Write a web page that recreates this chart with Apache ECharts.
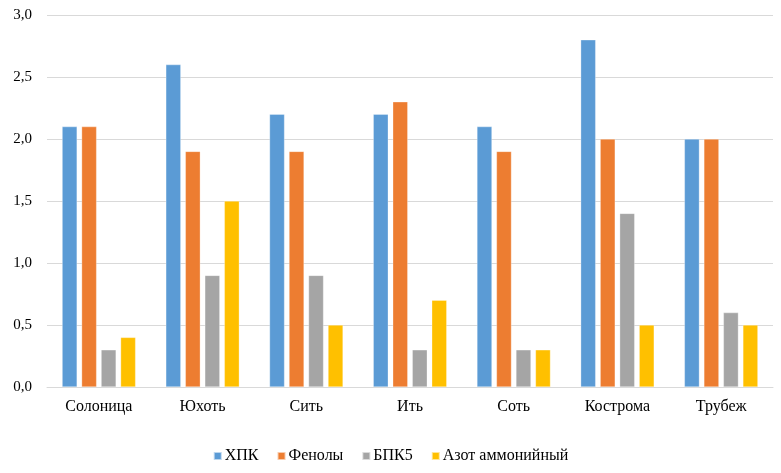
<!DOCTYPE html>
<html><head><meta charset="utf-8">
<script src="https://cdn.jsdelivr.net/npm/echarts@6/dist/echarts.min.js"></script>
<style>html,body{margin:0;padding:0;background:#fff}#c{width:781px;height:473px}</style>
</head><body><div id="c"></div>
<script>
const categories = ['Солоница','Юхоть','Сить','Ить','Соть','Кострома','Трубеж'];
const seriesNames = ['ХПК','Фенолы','БПК5','Азот аммонийный'];
const hpk = [2.1, 2.6, 2.2, 2.2, 2.1, 2.8, 2.0];
const fenoly = [2.1, 1.9, 1.9, 2.3, 1.9, 2.0, 2.0];
const bpk5 = [0.3, 0.9, 0.9, 0.3, 0.3, 1.4, 0.6];
const azot = [0.4, 1.5, 0.5, 0.7, 0.3, 0.5, 0.5];
const colors = ['#5B9BD5','#ED7D31','#A5A5A5','#FFC000'];
const values = [hpk, fenoly, bpk5, azot];

const chart = echarts.init(document.getElementById('c'));
const font = '"Liberation Serif", "Times New Roman", serif';
chart.setOption({
  animation: false,
  textStyle: {fontFamily: font},
  grid: {left: 47, right: 8, top: 15, bottom: 86},
  legend: {
    data: seriesNames, bottom: 4, left: 'center',
    icon: 'rect', itemWidth: 8, itemHeight: 8, itemGap: 18,
    textStyle: {fontFamily: font, fontSize: 16, color: '#000', padding: [0, 0, 0, -2]}
  },
  xAxis: {
    type: 'category', data: categories,
    axisLine: {lineStyle: {color: '#D9D9D9'}},
    axisTick: {show: false},
    axisLabel: {fontFamily: font, fontSize: 16, color: '#000', margin: 12}
  },
  yAxis: {
    type: 'value', min: 0, max: 3, interval: 0.5,
    axisLine: {show: false}, axisTick: {show: false},
    splitLine: {lineStyle: {color: '#D9D9D9'}},
    axisLabel: {fontFamily: font, fontSize: 15, color: '#000', margin: 15,
      formatter: v => v.toFixed(1).replace('.', ',')}
  },
  series: seriesNames.map((n, i) => ({
    name: n, type: 'bar', data: values[i], barWidth: 15, barGap: '30%',
    itemStyle: {color: colors[i], borderColor: 'rgba(255,255,255,0.6)', borderWidth: 0.5}
  }))
});
</script></body></html>
